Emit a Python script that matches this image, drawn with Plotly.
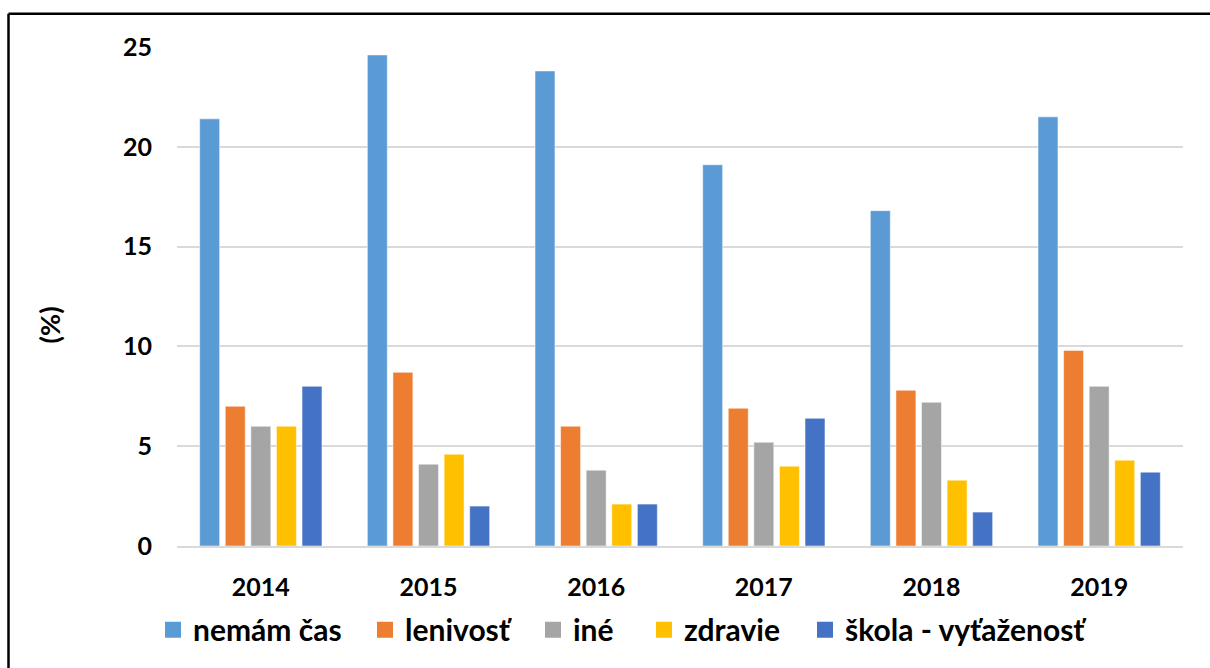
import plotly.graph_objects as go

years = ["2014", "2015", "2016", "2017", "2018", "2019"]
nemam_cas = [21.4, 24.6, 23.8, 19.1, 16.8, 21.5]
lenivost = [7.0, 8.7, 6.0, 6.9, 7.8, 9.8]
ine = [6.0, 4.1, 3.8, 5.2, 7.2, 8.0]
zdravie = [6.0, 4.6, 2.1, 4.0, 3.3, 4.3]
skola = [8.0, 2.0, 2.1, 6.4, 1.7, 3.7]

series = [
    ("nemám čas", nemam_cas, "#5B9BD5"),
    ("lenivosť", lenivost, "#ED7D31"),
    ("iné", ine, "#A5A5A5"),
    ("zdravie", zdravie, "#FFC000"),
    ("škola - vyťaženosť", skola, "#4472C4"),
]
# legend marker centres (px) for each entry
legend_marker_x = [173, 385, 553, 664, 825]

FONT = "Lato"
L, R, T, B = 177, 27, 47, 120
PW, PH = 1210 - L - R, 668 - T - B

fig = go.Figure()
for name, vals, col in series:
    fig.add_trace(go.Bar(
        x=years, y=vals, name=name, showlegend=False,
        marker=dict(color=col, line=dict(color="rgba(255,255,255,0.5)", width=1)),
    ))

legend_layout = {}
for i, ((name, vals, col), mx) in enumerate(zip(series, legend_marker_x)):
    lid = "legend" if i == 0 else f"legend{i + 1}"
    fig.add_trace(go.Scatter(
        x=[None], y=[None], mode="markers", name=name, legend=lid,
        marker=dict(symbol="square", size=18, color=col),
        showlegend=True, hoverinfo="skip",
    ))
    legend_layout[lid] = dict(
        orientation="h", x=(mx - 20 - L) / PW, xanchor="left",
        y=(548 - 632) / PH, yanchor="middle",
        font=dict(family=FONT, size=30, color="black", weight="bold"),
        bgcolor="rgba(0,0,0,0)", itemsizing="trace",
    )

fig.update_layout(
    width=1210, height=668,
    margin=dict(l=L, r=R, t=T, b=B),
    paper_bgcolor="white", plot_bgcolor="white",
    barmode="group", bargap=0.237, bargroupgap=0.22,
    font=dict(family=FONT, color="black"),
    showlegend=True,
    xaxis=dict(
        showgrid=False, showline=True, linecolor="#D9D9D9", linewidth=2,
        ticks="", tickfont=dict(family=FONT, size=25, color="black", weight="bold"),
        ticklabelstandoff=18,
    ),
    yaxis=dict(
        range=[0, 25], tickvals=[0, 5, 10, 15, 20, 25],
        showgrid=True, gridcolor="#D9D9D9", gridwidth=2,
        zeroline=False, showline=False, ticks="",
        tickfont=dict(family=FONT, size=25, color="black", weight="bold"),
        ticklabelstandoff=24,
    ),
    shapes=[
        dict(type="line", xref="paper", yref="paper",
             x0=(8.5 - L) / PW, x1=(1300 - L) / PW,
             y0=(548 - 13.5) / PH, y1=(548 - 13.5) / PH,
             line=dict(color="black", width=2.5), layer="above"),
        dict(type="line", xref="paper", yref="paper",
             x0=(8.5 - L) / PW, x1=(8.5 - L) / PW,
             y0=(548 - 13.5) / PH, y1=(548 - 800) / PH,
             line=dict(color="black", width=2.5), layer="above"),
    ],
    annotations=[dict(
        text="(%)", xref="paper", yref="paper",
        x=(49.5 - L) / PW, y=(548 - 326) / PH, xanchor="center", yanchor="middle",
        textangle=-90, showarrow=False,
        font=dict(family=FONT, size=27, color="black", weight="bold"),
    )],
    **legend_layout,
)

fig.write_html(
    "out.html",
    config={"displayModeBar": False},
    post_script="document.body.style.margin='0px';document.body.style.overflow='hidden';",
)
